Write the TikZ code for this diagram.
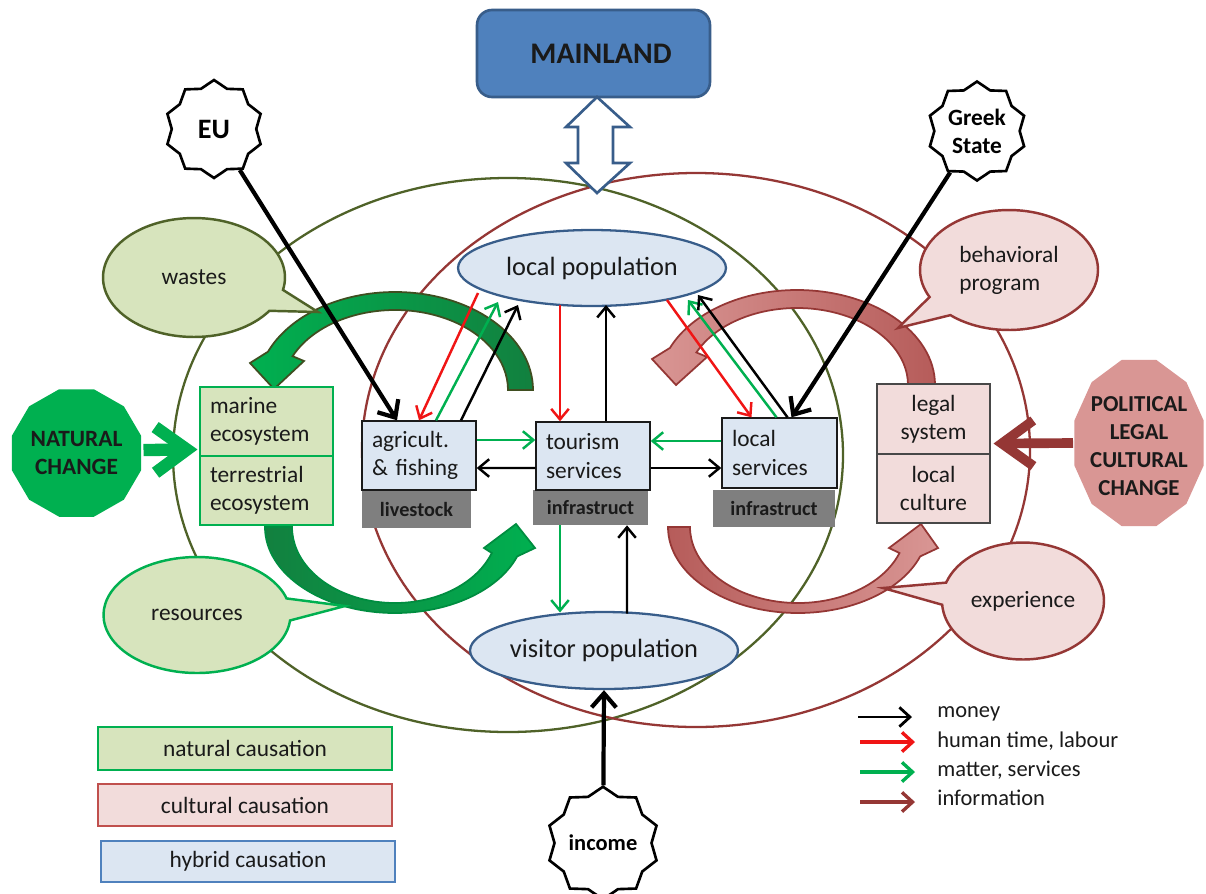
\documentclass[tikz,border=0pt]{standalone}
\usepackage{fontspec}
\setmainfont{Carlito}
\usetikzlibrary{shapes.geometric,shapes.callouts,arrows.meta}
\definecolor{cOlive}{HTML}{4F6228}
\definecolor{cDRed}{HTML}{953735}
\definecolor{cLGreen}{HTML}{D7E4BD}
\definecolor{cLRed}{HTML}{F2DCDB}
\definecolor{cLBlue}{HTML}{DCE6F2}
\definecolor{cBlue}{HTML}{4F81BD}
\definecolor{cBBord}{HTML}{385D8A}
\definecolor{cGreen}{HTML}{00B050}
\definecolor{cDGreen}{HTML}{12803F}
\definecolor{cGray}{HTML}{7F7F7F}
\definecolor{cRose}{HTML}{D99694}
\definecolor{cDRose}{HTML}{B65C5A}
\definecolor{cText}{HTML}{1A1A1A}
\definecolor{cRed}{HTML}{F01515}
\definecolor{cLegRed}{HTML}{C0504D}
\begin{document}
\begin{tikzpicture}[x=0.02cm,y=0.02cm,
  bigtxt/.style={font=\fontsize{13.3}{16}\selectfont},
  poptxt/.style={font=\fontsize{15}{18}\selectfont},
  hbox/.style={rectangle, draw=cText, line width=0.8pt, fill=cLBlue, inner xsep=0.2cm, inner ysep=0pt, align=left, bigtxt, text=cText},
  gbox/.style={rectangle, fill=cGray, inner sep=0pt, font=\fontsize{11.5}{14}\selectfont\bfseries, text=cText},
  ecobox/.style={rectangle, draw=cGreen, line width=0.6pt, fill=cLGreen, inner xsep=0.2cm, inner ysep=0pt, align=left, bigtxt, text=cText},
  culbox/.style={rectangle, draw=cText!80, line width=0.6pt, fill=cLRed, inner sep=0pt, align=center, bigtxt, text=cText},
  popell/.style={ellipse, draw=cBBord, line width=1.3pt, fill=cLBlue, inner sep=0pt, poptxt, text=cText},
  sealstar/.style={star, star points=10, star point ratio=1.16, draw=black, line width=1.5pt, fill=white, inner sep=0pt, align=center},
  wcall/.style={ellipse callout, callout pointer arc=22, line width=1.4pt, inner sep=0pt, bigtxt, text=cText, align=left},
  flowarr/.style={line width=1.4pt, -{Straight Barb[length=6pt,width=10pt]}},
  heavyarr/.style={line width=2.4pt, -{Straight Barb[length=8pt,width=14pt]}},
  legbox/.style={rectangle, line width=0.7pt, minimum width=5.88cm, inner sep=0pt, bigtxt, text=cText},
  legtxt/.style={anchor=west, inner sep=0pt, font=\fontsize{12.8}{15}\selectfont, text=cText}
]
\useasboundingbox (0,0) rectangle (1206,-893);
\fill[white] (0,0) rectangle (1206,-893);

% big domain ellipses
\draw[cOlive, line width=1.3pt] (508,-455) ellipse [x radius=335, y radius=277];
\draw[cDRed, line width=1.3pt] (696,-450) ellipse [x radius=334, y radius=277];

% mainland
\node[rectangle, rounded corners=0.3cm, fill=cBlue, draw=cBBord, line width=1.5pt,
  minimum width=4.66cm, minimum height=1.74cm, font=\fontsize{17}{20}\selectfont\bfseries, text=cText]
  (mainland) at (593.5,-53.5) {\hspace*{0.3cm}MAINLAND};
\draw[fill=white, draw=cBBord, line width=1.5pt]
  (597,-97) -- (630,-127) -- (613,-127) -- (613,-163) -- (630,-163) -- (597,-193)
  -- (566,-163) -- (578,-163) -- (578,-127) -- (566,-127) -- cycle;

% natural change polygon
\fill[cGreen] plot[variable=\a, samples at={0,30,...,330}] ({76.5+67*cos(\a+15)},{-453+66*sin(\a+15)}) -- cycle;
\node[align=center, font=\fontsize{13.3}{16}\selectfont\bfseries, text=cText] (natc) at (76.5,-453) {NATURAL\\CHANGE};
% political change polygon
\fill[cRose] plot[variable=\a, samples at={0,30,...,330}] ({1139+67*cos(\a+15)},{-443+86*sin(\a+15)}) -- cycle;
\node[align=center, font=\fontsize{13}{16}\selectfont\bfseries, text=cText] (polc) at (1139,-446) {POLITICAL\\LEGAL\\CULTURAL\\CHANGE};

% curved arrows
\path[left color=cGreen, right color=cDGreen, draw=cOlive!80!black, line width=1pt]
  (533,-390) arc[start angle=0, end angle=157, x radius=138, y radius=98]
  -- (250,-363) -- (274,-389) -- (304,-361) -- (292.59,-356.19)
  arc[start angle=155, end angle=0, x radius=113, y radius=80] -- cycle;
\path[left color=cDGreen, right color=cGreen, draw=cGreen!80!black, line width=1pt]
  (265,-527) arc[start angle=180, end angle=340, x radius=130, y radius=86]
  -- (535,-548) -- (516,-524) -- (484,-548) -- (491.79,-552.99)
  arc[start angle=340, end angle=180, x radius=103, y radius=76] -- cycle;
\path[left color=cRose, right color=cDRose, draw=cDRed, line width=1pt]
  (935,-385) arc[start angle=0, end angle=157, x radius=138, y radius=95]
  -- (652,-359) -- (676,-385) -- (707,-357) -- (696.40,-352.46)
  arc[start angle=155, end angle=0, x radius=111, y radius=77] -- cycle;
\path[left color=cDRose, right color=cRose, draw=cDRed, line width=1pt]
  (668,-527) arc[start angle=180, end angle=340, x radius=130, y radius=86]
  -- (938,-548) -- (921,-524) -- (889,-548) -- (899.49,-552.99)
  arc[start angle=340, end angle=180, x radius=108, y radius=76] -- cycle;

% callouts
\node[wcall, draw=cOlive, fill=cLGreen, minimum width=3.64cm, minimum height=2.38cm,
  callout absolute pointer={(318,-312)}] (wastes) at (194,-277.5) {wastes};
\node[wcall, draw=cGreen, fill=cLGreen, minimum width=3.74cm, minimum height=2.32cm,
  callout absolute pointer={(345,-606)}] (res) at (197,-615) {resources};
\node[wcall, draw=cDRed, fill=cLRed, minimum width=3.56cm, minimum height=2.4cm,
  callout absolute pointer={(898,-328)}] (behav) at (1009,-270) {behavioral\\program};
\node[wcall, draw=cDRed, fill=cLRed, minimum width=3.24cm, minimum height=2.34cm,
  callout absolute pointer={(883,-588)}] (exper) at (1023,-601) {experience};

% boxes
\node[ecobox, minimum width=2.66cm, minimum height=1.38cm, text width=2.26cm] (eco1) at (266.5,-421.5) {marine\\ecosystem};
\node[ecobox, minimum width=2.66cm, minimum height=1.38cm, text width=2.26cm] (eco2) at (266.5,-490.5) {terrestrial\\ecosystem};
\node[culbox, minimum width=2.26cm, minimum height=1.4cm] (legal) at (933.5,-419) {legal\\system};
\node[culbox, minimum width=2.26cm, minimum height=1.38cm] (cult) at (933.5,-488.5) {local\\culture};

\node[gbox, minimum width=2.18cm, minimum height=0.76cm] (live) at (416.5,-509) {livestock};
\node[gbox, minimum width=2.3cm, minimum height=0.7cm] (inf1) at (590.5,-507.5) {infrastruct};
\node[gbox, minimum width=2.44cm, minimum height=0.74cm] (inf2) at (774,-508.5) {infrastruct};
\node[hbox, minimum width=2.28cm, minimum height=1.38cm, text width=1.88cm] (agri) at (419,-455.5) {agricult.\\\& fishing};
\node[hbox, minimum width=2.28cm, minimum height=1.36cm, text width=1.88cm] (tour) at (593,-456) {tourism\\services};
\node[hbox, minimum width=2.3cm, minimum height=1.4cm, text width=1.9cm] (locs) at (779.5,-453) {local\\services};

\node[popell, minimum width=5.36cm, minimum height=1.52cm] (lp) at (592,-268) {local population};
\node[popell, minimum width=5.36cm, minimum height=1.54cm] (vp) at (604,-650.5) {visitor population};

% stars
\node[sealstar, minimum size=1.96cm, font=\fontsize{16}{19}\selectfont\bfseries] (eu) at (214,-129) {EU};
\node[sealstar, minimum size=1.98cm, font=\fontsize{13.3}{16}\selectfont\bfseries] (gs) at (977,-131) {Greek\\State};
\node[sealstar, minimum size=1.96cm, font=\fontsize{12.8}{15}\selectfont\bfseries] (inc) at (603,-843) {income};

% change arrows
\draw[cGreen, line width=7pt, -{Straight Barb[length=18pt,width=26pt]}] ([shift={(67,3)}]natc.center) -- ([shift={(-2,6)}]eco2.north west);
\draw[cDRed, line width=5.5pt, -{Straight Barb[length=18pt,width=26pt]}] ([shift={(-66,3)}]polc.center) -- ([shift={(3,11)}]legal.south east);

% external drivers
\draw[heavyarr] (eu) -- ([shift={(-22,0)}]agri.north);
\draw[heavyarr] (gs) -- ([shift={(12,0)}]locs.north);
\draw[heavyarr] (inc) -- (vp.south);

% flows left
\draw[flowarr, cRed] ([shift={(-114,-25)}]lp.center) -- (agri.north);
\draw[flowarr, cGreen] ([shift={(17,0)}]agri.north) -- ([shift={(-94,-34)}]lp.center);
\draw[flowarr] ([shift={(42,0)}]agri.north) -- ([shift={(-74,-37)}]lp.center);
% flows centre
\draw[flowarr, cRed] ([shift={(-32,-37)}]lp.center) -- ([shift={(-33,0)}]tour.north);
\draw[flowarr] ([shift={(13,0)}]tour.north) -- ([shift={(14,-37)}]lp.center);
% flows right
\draw[flowarr, cRed] ([shift={(75,-32)}]lp.center) -- ([shift={(-28,0)}]locs.north);
\draw[flowarr, cGreen] ([shift={(-3,0)}]locs.north) -- ([shift={(96,-32)}]lp.center);
\draw[flowarr] ([shift={(8,0)}]locs.north) -- ([shift={(106,-27)}]lp.center);
% horizontal flows
\draw[flowarr, cGreen] ([shift={(0,15.5)}]agri.east) -- ([shift={(0,16)}]tour.west);
\draw[flowarr] ([shift={(0,-12)}]tour.west) -- ([shift={(0,-12.5)}]agri.east);
\draw[flowarr, cGreen] ([shift={(0,12)}]locs.west) -- ([shift={(0,15)}]tour.east);
\draw[flowarr] ([shift={(0,-12)}]tour.east) -- ([shift={(0,-15)}]locs.west);
% flows bottom
\draw[flowarr, cGreen] ([shift={(-30.5,0)}]inf1.south) -- ([shift={(-44,38)}]vp.center);
\draw[flowarr] ([shift={(23,37)}]vp.center) -- ([shift={(36.5,0)}]inf1.south);

% legend boxes
\node[legbox, draw=cGreen, fill=cLGreen, minimum height=0.86cm] (lnat) at (245,-748.5) {natural causation};
\node[legbox, draw=cLegRed, fill=cLRed, minimum height=0.84cm] (lcul) at (245,-805) {cultural causation};
\node[legbox, draw=cBlue, fill=cLBlue, minimum height=0.82cm] (lhyb) at (248,-861.5) {hybrid causation};

% legend arrows
\coordinate (a1) at (858,-717); \coordinate (b1) at (912,-717);
\coordinate (a2) at (860,-742); \coordinate (b2) at (915,-742);
\coordinate (a3) at (860,-772); \coordinate (b3) at (915,-772);
\coordinate (a4) at (860,-802); \coordinate (b4) at (915,-802);
\draw[line width=1.6pt, -{Straight Barb[length=6pt,width=11pt]}] (a1) -- (b1);
\draw[line width=1.9pt, cRed, -{Straight Barb[length=6pt,width=11pt]}] (a2) -- (b2);
\draw[line width=1.9pt, cGreen, -{Straight Barb[length=6pt,width=11pt]}] (a3) -- (b3);
\draw[line width=1.9pt, cDRed, -{Straight Barb[length=6pt,width=11pt]}] (a4) -- (b4);
\node[legtxt] (t1) at (937,-714) {money};
\node[legtxt] (t2) at (937,-741) {human time, labour};
\node[legtxt] (t3) at (937,-770) {matter, services};
\node[legtxt] (t4) at (937,-798) {information};
\end{tikzpicture}
\end{document}
